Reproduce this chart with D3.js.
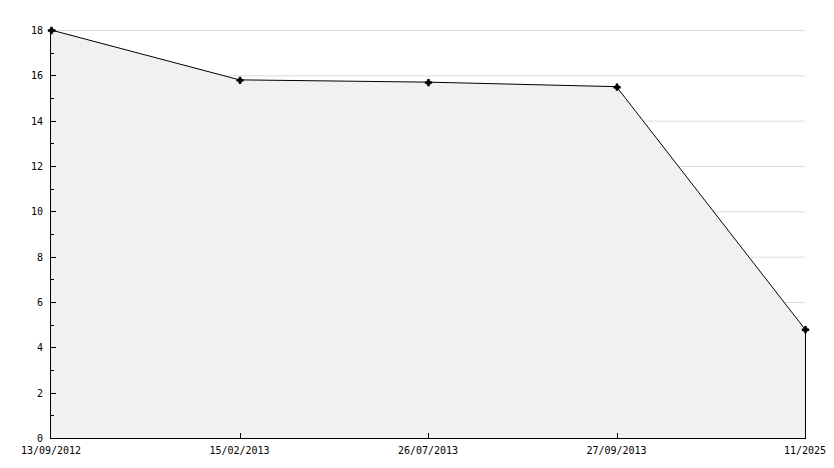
<!DOCTYPE html>
<html>
<head>
<meta charset="utf-8">
<script src="https://cdn.jsdelivr.net/npm/d3@7"></script>
<style>
body{margin:0;background:#fff}
text{font-family:"DejaVu Sans Mono",monospace;font-size:10px;fill:#000}
</style>
</head>
<body>
<svg id="chart" width="834" height="468"></svg>
<script>
// dates along the bottom and the value at each
var dates = ["13/09/2012","15/02/2013","26/07/2013","27/09/2013","11/2025"]
var values = [18, 15.8, 15.7, 15.5, 4.8]
var yticks = [0,2,4,6,8,10,12,14,16,18]
var yminor = [1,3,5,7,9,11,13,15,17]

var svg = d3.select("#chart")
var pl = 51, pr = 805, pt = 30, pb = 438 // plot edges

var x = d3.scalePoint().domain(dates).range([pl,pr])
var y = d3.scaleLinear().domain([0,18]).range([pb,pt])

// grid
svg.append("g").selectAll("line").data(yticks.filter(function(d){return d>0})).enter().append("line")
	.attr("x1",pl).attr("x2",pr)
	.attr("y1",function(d){return y(d)+0.5}).attr("y2",function(d){return y(d)+0.5})
	.attr("stroke","#dcdcdc").attr("stroke-width",1)

var pts = dates.map(function(d,i){return {d:d,v:values[i]}})

// area
var area = d3.area().x(function(d){return x(d.d)}).y0(y(0)).y1(function(d){return y(d.v)})
svg.append("path").attr("d",area(pts)).attr("fill","#f1f1f1")

// right edge down from last point
var last = pts[pts.length-1]
svg.append("line").attr("x1",x(last.d)+0.5).attr("x2",x(last.d)+0.5)
	.attr("y1",y(last.v)).attr("y2",y(0)).attr("stroke","#000").attr("shape-rendering","crispEdges")

// line
var line = d3.line().x(function(d){return x(d.d)}).y(function(d){return y(d.v)})
svg.append("path").attr("d",line(pts)).attr("fill","none").attr("stroke","#000").attr("stroke-width",1)

// y axis
var ya = svg.append("g").attr("shape-rendering","crispEdges")
ya.append("line").attr("x1",pl-0.5).attr("x2",pl-0.5).attr("y1",pt).attr("y2",pb).attr("stroke","#000")
ya.selectAll(".maj").data(yticks).enter().append("line")
	.attr("x1",pl).attr("x2",pl+5)
	.attr("y1",function(d){return y(d)+0.5}).attr("y2",function(d){return y(d)+0.5}).attr("stroke","#000")
ya.selectAll(".min").data(yminor).enter().append("line")
	.attr("x1",pl).attr("x2",pl+3)
	.attr("y1",function(d){return y(d)+0.5}).attr("y2",function(d){return y(d)+0.5}).attr("stroke","#000")
ya.selectAll("text").data(yticks).enter().append("text")
	.attr("x",pl-8).attr("y",function(d){return y(d)+4})
	.attr("text-anchor","end").text(function(d){return d})

// x axis
var xa = svg.append("g").attr("shape-rendering","crispEdges")
xa.append("line").attr("x1",pl-1).attr("x2",pr+1).attr("y1",pb+0.5).attr("y2",pb+0.5).attr("stroke","#000")
xa.selectAll(".tk").data(dates.slice(1,-1)).enter().append("line")
	.attr("x1",function(d){return x(d)+0.5}).attr("x2",function(d){return x(d)+0.5})
	.attr("y1",pb-5).attr("y2",pb).attr("stroke","#000")
xa.selectAll("text").data(dates).enter().append("text")
	.attr("x",function(d){return x(d)}).attr("y",pb+16)
	.attr("text-anchor","middle").text(function(d){return d})

// markers
svg.append("g").selectAll("path").data(pts).enter().append("path")
	.attr("transform",function(d){return "translate("+(x(d.d)+0.5)+","+(y(d.v)+0.5)+")"})
	.attr("d",d3.symbol().type(d3.symbolSquare).size(16))
	.attr("fill","#000")
svg.append("g").selectAll("path").data(pts).enter().append("path")
	.attr("transform",function(d){return "translate("+(x(d.d)+0.5)+","+(y(d.v)+0.5)+")"})
	.attr("d",d3.symbol().type(d3.symbolCross).size(30))
	.attr("fill","#000")
</script>
</body>
</html>
